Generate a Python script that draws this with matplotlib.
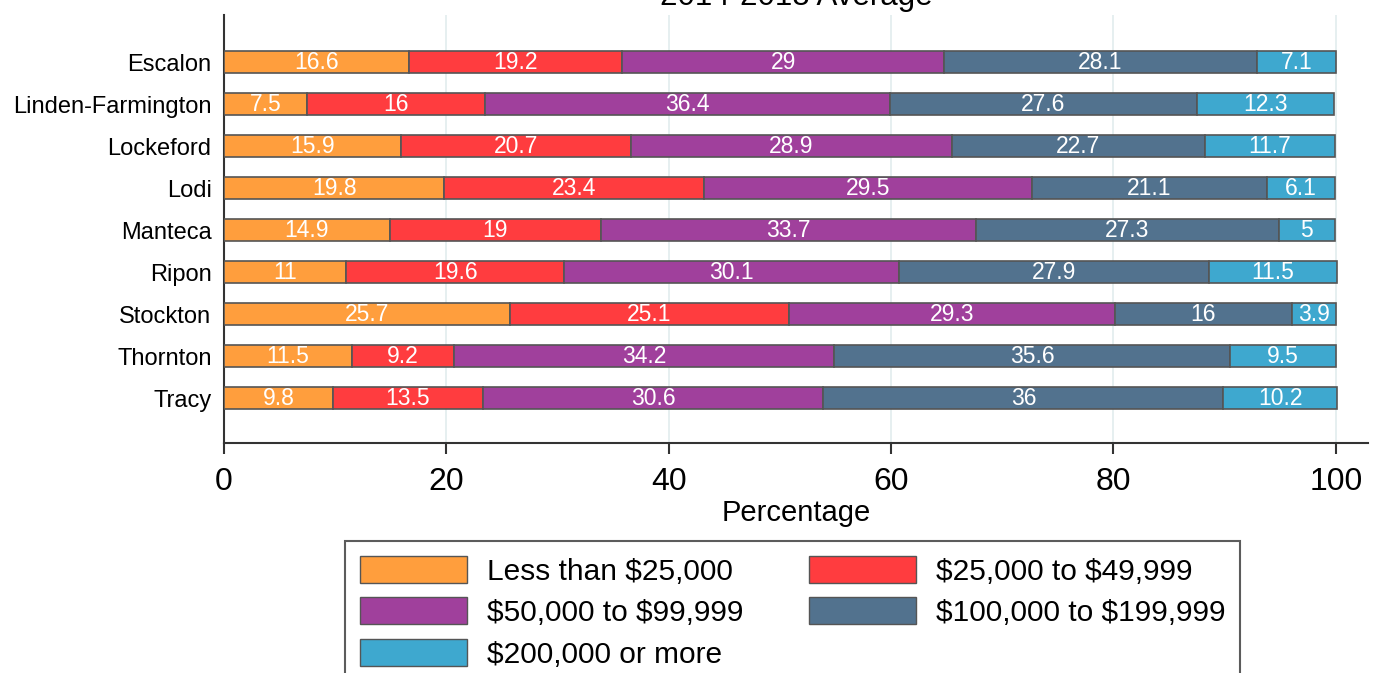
import numpy as np
import matplotlib.pyplot as plt
from matplotlib.patches import Patch

plt.rcParams["font.family"] = ["Liberation Sans", "DejaVu Sans"]
plt.rcParams["text.parse_math"] = False

places = ["Escalon", "Linden-Farmington", "Lockeford", "Lodi", "Manteca",
          "Ripon", "Stockton", "Thornton", "Tracy"]
brackets = ["Less than $25,000", "$25,000 to $49,999", "$50,000 to $99,999",
            "$100,000 to $199,999", "$200,000 or more"]
less_25k = [16.6, 7.5, 15.9, 19.8, 14.9, 11, 25.7, 11.5, 9.8]
k25_50 = [19.2, 16, 20.7, 23.4, 19, 19.6, 25.1, 9.2, 13.5]
k50_100 = [29, 36.4, 28.9, 29.5, 33.7, 30.1, 29.3, 34.2, 30.6]
k100_200 = [28.1, 27.6, 22.7, 21.1, 27.3, 27.9, 16, 35.6, 36]
k200_up = [7.1, 12.3, 11.7, 6.1, 5, 11.5, 3.9, 9.5, 10.2]
colors = ["#FF9E3D", "#FF3C3F", "#A0409C", "#52728E", "#3EA8CF"]

series = [less_25k, k25_50, k50_100, k100_200, k200_up]

fig = plt.figure(figsize=(13.75, 6.73), dpi=100)
ax = fig.add_axes([224 / 1375, 1 - 443 / 673, (1368 - 224) / 1375, (443 - 15) / 673])

y = np.arange(len(places))
left = np.zeros(len(places))
for vals, col in zip(series, colors):
    vals = np.array(vals, dtype=float)
    ax.barh(y, vals, left=left, height=0.53, color=col, edgecolor="#555555",
            linewidth=1.2, zorder=3)
    for yi, l, v in zip(y, left, vals):
        ax.text(l + v / 2, yi, f"{v:g}", ha="center", va="center",
                color="white", fontsize=16.5, zorder=4)
    left += vals

ax.set_xlim(0, 102.9)
ax.set_ylim(len(places) - 1 + 1.07, -1.12)
ax.set_yticks(y)
ax.set_yticklabels(places, fontsize=17)
ax.tick_params(axis="y", length=0, pad=9)
ax.set_xticks([0, 20, 40, 60, 80, 100])
ax.tick_params(axis="x", length=8, width=1.5, color="#333333", labelsize=23, pad=9)
ax.xaxis.grid(True, color="#E2ECEE", linewidth=1.2, zorder=0)
ax.set_xlabel("Percentage", fontsize=21, labelpad=2)

for s in ["top", "right"]:
    ax.spines[s].set_visible(False)
for s in ["left", "bottom"]:
    ax.spines[s].set_color("#333333")
    ax.spines[s].set_linewidth(1.5)

fig.text(796 / 1375, 1 - 5 / 673, "2014-2018 Average", ha="center",
         va="baseline", fontsize=22.5)

handles = [Patch(facecolor=c, edgecolor="#555555", label=b)
           for c, b in zip(colors, brackets)]
order = [0, 2, 4, 1, 3]  # fill legend row by row
leg = fig.legend(handles=[handles[i] for i in order], ncol=2, loc="upper left",
                 bbox_to_anchor=(345 / 1375, 1 - 541 / 673), borderaxespad=0,
                 fontsize=21.5, frameon=True, fancybox=False, edgecolor="#333333",
                 handlelength=3.6, handleheight=1.0, columnspacing=2.2,
                 labelspacing=0.4, borderpad=0.5, handletextpad=0.65)
leg.get_frame().set_linewidth(1.5)

fig.savefig("out.png", dpi=100)
